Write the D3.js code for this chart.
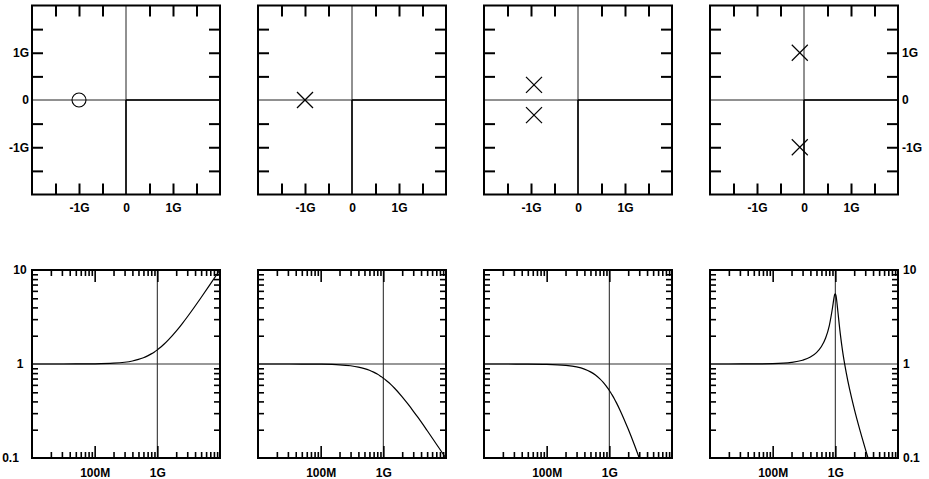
<!DOCTYPE html>
<html>
<head>
<meta charset="utf-8">
<script src="https://cdn.jsdelivr.net/npm/d3@7"></script>
<style>
  html, body { margin: 0; padding: 0; background: #fff; }
  svg { display: block; }
</style>
</head>
<body>
<svg id="chart" width="929" height="479"></svg>
<script>
// ---- s-plane singularities per column (real, imaginary), in GHz ----
const zerosByPanel = [[[-1, 0]], [], [], []];
const polesByPanel = [[], [[-1, 0]], [[-0.936, 0.32], [-0.936, -0.32]], [[-0.09, 1.0], [-0.09, -1.0]]];

// ---- pole-zero plane axis ticks / labels (GHz) ----
const pzTickValues = [-1.5, -1, -0.5, 0.5, 1, 1.5];
const pzLabelValues = [-1, 0, 1];
const pzLabels = ["-1G", "0", "1G"];

// ---- magnitude response samples (frequency in GHz, |H|) ----
const freqGHz = [0.01, 0.02, 0.05, 0.1, 0.2, 0.3, 0.4, 0.5, 0.6, 0.7, 0.8, 0.9, 0.95, 1.0,
                 1.05, 1.1, 1.2, 1.3, 1.5, 2, 2.5, 3, 3.5, 5, 7, 10];
const magZero     = [1.0001, 1.0002, 1.0012, 1.005, 1.0198, 1.044, 1.077, 1.118, 1.166, 1.221, 1.281, 1.345, 1.379, 1.414,
                     1.450, 1.487, 1.562, 1.640, 1.803, 2.236, 2.693, 3.162, 3.640, 5.099, 7.071, 10.05];
const magPole     = [0.9999, 0.9998, 0.9988, 0.995, 0.981, 0.958, 0.928, 0.894, 0.857, 0.819, 0.781, 0.743, 0.725, 0.707,
                     0.690, 0.673, 0.640, 0.610, 0.555, 0.447, 0.371, 0.316, 0.275, 0.196, 0.141, 0.0995];
const magPolePair = [0.9999, 0.9997, 0.998, 0.992, 0.968, 0.931, 0.882, 0.825, 0.763, 0.699, 0.637, 0.578, 0.550, 0.522,
                     0.497, 0.472, 0.427, 0.386, 0.317, 0.203, 0.139, 0.0999, 0.075, 0.040, 0.020, 0.0098];
const freqGHzResonant = [0.01, 0.02, 0.05, 0.1, 0.2, 0.3, 0.4, 0.5, 0.6, 0.7, 0.8, 0.9, 0.95, 0.97, 0.98, 1.0,
                         1.02, 1.03, 1.05, 1.1, 1.2, 1.3, 1.5, 2, 2.5, 3, 3.5, 5, 7, 10];
const magResonant = [1.000, 1.0004, 1.0025, 1.0098, 1.041, 1.096, 1.184, 1.321, 1.534, 1.891, 2.55, 3.94, 5.01, 5.39, 5.52, 5.59,
                     5.41, 5.23, 4.77, 3.57, 2.09, 1.398, 0.793, 0.3345, 0.1916, 0.1259, 0.0895, 0.042, 0.021, 0.0102];

const responseFreqs = [freqGHz, freqGHz, freqGHz, freqGHzResonant];
const responseMags = [magZero, magPole, magPolePair, magResonant];

// ---- Bode axis ticks / labels ----
const freqDecades = [1e7, 1e8, 1e9];
const freqMajor = [1e8, 1e9];
const freqLabels = ["100M", "1G"];
const gainDecades = [0.1, 1];
const gainLabelValues = [0.1, 1, 10];
const gainLabels = ["0.1", "1", "10"];

// which side carries the vertical labels for each column
const yLabelSide = ["left", null, null, "right"];

// ---- layout ----
const colX = [32, 258, 484, 710];
const W = 188;
const topY = 5.5, topH = 189;
const botY = 270, botH = 188;
const FONT = "'Liberation Sans', Arial, Helvetica, sans-serif";

const svg = d3.select("#chart");
const defs = svg.append("defs");

function minorTicks(decades) {
  const out = [];
  decades.forEach(d => { for (let k = 2; k <= 9; k++) out.push(d * k); });
  return out;
}

function tickAxis(g, axis, transform, width) {
  g.append("g")
    .attr("transform", transform)
    .call(axis)
    .call(a => a.select(".domain").remove())
    .selectAll("line").attr("stroke", "#000").attr("stroke-width", width);
}

function labelAxis(g, axis, transform) {
  const a = g.append("g")
    .attr("transform", transform)
    .call(axis)
    .call(s => s.select(".domain").remove())
    .call(s => s.selectAll("line").remove());
  a.selectAll("text")
    .attr("font-family", FONT)
    .attr("font-size", 12)
    .attr("font-weight", "bold")
    .attr("fill", "#000");
  return a;
}

colX.forEach((x0, i) => {
  const x1 = x0 + W;

  // ================= pole-zero plane =================
  {
    const g = svg.append("g");
    const y0 = topY, y1 = topY + topH;
    const sx = d3.scaleLinear([-2, 2], [x0, x1]);
    const sy = d3.scaleLinear([-2, 2], [y1, y0]);

    // real / imaginary axes
    g.append("line").attr("x1", sx(0)).attr("x2", sx(0)).attr("y1", y0).attr("y2", y1)
      .attr("stroke", "#222").attr("stroke-width", 1);
    g.append("line").attr("x1", x0).attr("x2", x1).attr("y1", sy(0)).attr("y2", sy(0))
      .attr("stroke", "#222").attr("stroke-width", 1);
    g.append("line").attr("x1", sx(0)).attr("x2", sx(0)).attr("y1", sy(0)).attr("y2", y1)
      .attr("stroke", "#000").attr("stroke-width", 1.5);
    g.append("line").attr("x1", sx(0)).attr("x2", x1).attr("y1", sy(0)).attr("y2", sy(0))
      .attr("stroke", "#000").attr("stroke-width", 1.5);

    // inward ticks on all four sides
    tickAxis(g, d3.axisBottom(sx).tickValues(pzTickValues).tickSize(-11).tickFormat(""), `translate(0,${y1})`, 2);
    tickAxis(g, d3.axisTop(sx).tickValues(pzTickValues).tickSize(-11).tickFormat(""), `translate(0,${y0})`, 2);
    tickAxis(g, d3.axisLeft(sy).tickValues(pzTickValues).tickSize(-11).tickFormat(""), `translate(${x0},0)`, 2);
    tickAxis(g, d3.axisRight(sy).tickValues(pzTickValues).tickSize(-11).tickFormat(""), `translate(${x1},0)`, 2);

    // frame
    g.append("rect").attr("x", x0).attr("y", y0).attr("width", W).attr("height", topH)
      .attr("fill", "none").attr("stroke", "#000").attr("stroke-width", 2);

    // labels
    labelAxis(g, d3.axisBottom(sx).tickValues(pzLabelValues).tickSize(0).tickPadding(9)
      .tickFormat((d, k) => pzLabels[k]), `translate(0,${y1})`);
    if (yLabelSide[i] === "left") {
      labelAxis(g, d3.axisLeft(sy).tickValues(pzLabelValues).tickSize(0).tickPadding(3)
        .tickFormat((d, k) => pzLabels[k]), `translate(${x0},0)`);
    } else if (yLabelSide[i] === "right") {
      labelAxis(g, d3.axisRight(sy).tickValues(pzLabelValues).tickSize(0).tickPadding(4)
        .tickFormat((d, k) => pzLabels[k]), `translate(${x1},0)`);
    }

    // zeros: circles
    g.selectAll("circle.zero").data(zerosByPanel[i]).join("circle")
      .attr("class", "zero")
      .attr("cx", d => sx(d[0])).attr("cy", d => sy(d[1])).attr("r", 7)
      .attr("fill", "none").attr("stroke", "#000").attr("stroke-width", 1.1);

    // poles: crosses
    const s = 8;
    const pg = g.selectAll("g.pole").data(polesByPanel[i]).join("g")
      .attr("class", "pole")
      .attr("transform", d => `translate(${sx(d[0])},${sy(d[1])})`);
    pg.append("line").attr("x1", -s).attr("y1", -s).attr("x2", s).attr("y2", s)
      .attr("stroke", "#000").attr("stroke-width", 1.2);
    pg.append("line").attr("x1", -s).attr("y1", s).attr("x2", s).attr("y2", -s)
      .attr("stroke", "#000").attr("stroke-width", 1.2);
  }

  // ================= magnitude response =================
  {
    const g = svg.append("g");
    const y0 = botY, y1 = botY + botH;
    const sx = d3.scaleLog([1e7, 1e10], [x0, x1]);
    const sy = d3.scaleLog([0.1, 10], [y1, y0]);

    const clipId = `clip-${i}`;
    defs.append("clipPath").attr("id", clipId)
      .append("rect").attr("x", x0).attr("y", y0).attr("width", W).attr("height", botH);

    // reference lines at 1 GHz and unity gain
    g.append("line").attr("x1", sx(1e9)).attr("x2", sx(1e9)).attr("y1", y0).attr("y2", y1)
      .attr("stroke", "#333").attr("stroke-width", 1.1);
    g.append("line").attr("x1", x0).attr("x2", x1).attr("y1", sy(1)).attr("y2", sy(1))
      .attr("stroke", "#333").attr("stroke-width", 1.1);

    const fMinor = minorTicks(freqDecades);
    const gMinor = minorTicks(gainDecades);
    tickAxis(g, d3.axisBottom(sx).tickValues(fMinor).tickSize(-6).tickFormat(""), `translate(0,${y1})`, 1.6);
    tickAxis(g, d3.axisTop(sx).tickValues(fMinor).tickSize(-6).tickFormat(""), `translate(0,${y0})`, 1.6);
    tickAxis(g, d3.axisBottom(sx).tickValues(freqMajor).tickSize(-12).tickFormat(""), `translate(0,${y1})`, 1.6);
    tickAxis(g, d3.axisTop(sx).tickValues(freqMajor).tickSize(-12).tickFormat(""), `translate(0,${y0})`, 1.6);
    tickAxis(g, d3.axisLeft(sy).tickValues(gMinor).tickSize(-6).tickFormat(""), `translate(${x0},0)`, 1.6);
    tickAxis(g, d3.axisRight(sy).tickValues(gMinor).tickSize(-6).tickFormat(""), `translate(${x1},0)`, 1.6);

    // response curve
    const pts = responseFreqs[i].map((f, k) => [f * 1e9, responseMags[i][k]]);
    g.append("path")
      .attr("clip-path", `url(#${clipId})`)
      .attr("d", d3.line().x(d => sx(d[0])).y(d => sy(d[1])).curve(d3.curveMonotoneX)(pts))
      .attr("fill", "none").attr("stroke", "#000").attr("stroke-width", 1.2);

    // frame
    g.append("rect").attr("x", x0).attr("y", y0).attr("width", W).attr("height", botH)
      .attr("fill", "none").attr("stroke", "#000").attr("stroke-width", 2);

    // labels
    labelAxis(g, d3.axisBottom(sx).tickValues(freqMajor).tickSize(0).tickPadding(10)
      .tickFormat((d, k) => freqLabels[k]), `translate(0,${y1})`);
    if (yLabelSide[i] === "left") {
      labelAxis(g, d3.axisLeft(sy).tickValues(gainLabelValues).tickSize(0).tickPadding(12)
        .tickFormat((d, k) => gainLabels[k]), `translate(${x0},0)`)
        .selectAll("text")
        .attr("text-anchor", "middle")
        .attr("dx", d => d < 1 ? -9.5 : 0);
    } else if (yLabelSide[i] === "right") {
      labelAxis(g, d3.axisRight(sy).tickValues(gainLabelValues).tickSize(0).tickPadding(5)
        .tickFormat((d, k) => gainLabels[k]), `translate(${x1},0)`);
    }
  }
});
</script>
</body>
</html>
